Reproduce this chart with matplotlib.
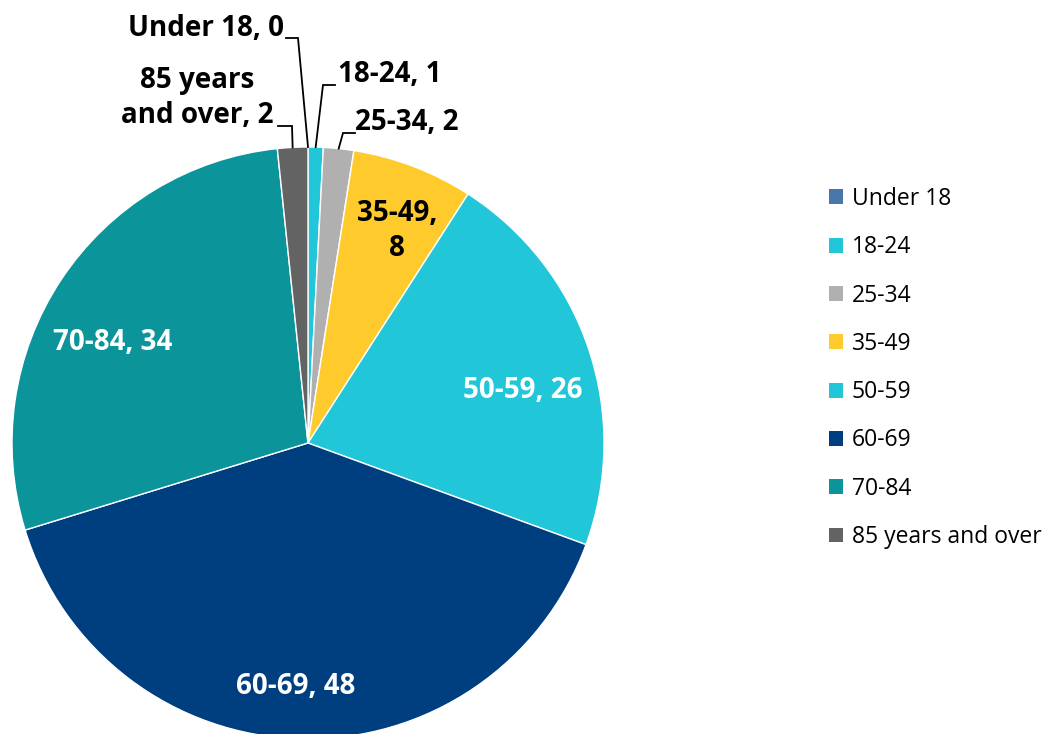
import matplotlib
matplotlib.use("Agg")
import matplotlib.pyplot as plt
import numpy as np

categories = ["Under 18", "18-24", "25-34", "35-49", "50-59", "60-69", "70-84", "85 years and over"]
values = [0, 1, 2, 8, 26, 48, 34, 2]
colors = ["#4A76AC", "#21C6D8", "#B0B0B0", "#FFCA2B", "#21C6D8", "#003F7F", "#0B9499", "#636363"]
label_texts = ["Under 18, 0", "18-24, 1", "25-34, 2", "35-49,\n8", "50-59, 26", "60-69, 48", "70-84, 34", "85 years\nand over, 2"]

W, H = 1045, 734
fig = plt.figure(figsize=(W / 100, H / 100), dpi=100)
ax = fig.add_axes([0, 0, 1, 1])

cx, cy, R = 308, H - 443, 296
wedges, _ = ax.pie(values, colors=colors, startangle=90, counterclock=False,
                   center=(cx, cy), radius=R, frame=True,
                   wedgeprops=dict(edgecolor="white", linewidth=1.0))
ax.set_xlim(0, W)
ax.set_ylim(0, H)
ax.set_aspect("equal")
ax.axis("off")

font = "Open Sans"
fs = 20

# inside labels (text position in pixel coords, color)
inside = {3: ((397, 231), "black"), 4: ((523, 391), "white"),
          5: ((296, 686), "white"), 6: ((113, 343), "white")}
for i, ((tx, ty), col) in inside.items():
    ax.text(tx, H - ty, label_texts[i], ha="center", va="center", color=col,
            fontsize=fs, fontweight="bold", family=font, linespacing=1.27)

# outside labels with leader lines: text center, elbow point
outside = {0: ((206, 29), (286, 38), (298, 38)),
           1: ((390, 74), (335, 85), (323, 85)),
           2: ((407, 122), (355, 133), (343, 133)),
           7: ((197, 98), (278, 126), (292, 126))}
cum = np.cumsum([0] + values)
total = sum(values)
for i, ((tx, ty), (x1, y1), (x2, y2)) in outside.items():
    mid = (cum[i] + cum[i + 1]) / 2 / total
    ang = np.deg2rad(90 - 360 * mid)
    ex, ey = cx + R * np.cos(ang), cy + R * np.sin(ang)
    ax.plot([x1, x2, ex], [H - y1, H - y2, ey], color="black", lw=1.3,
            solid_joinstyle="miter")
    ax.text(tx, H - ty, label_texts[i], ha="center", va="center", color="black",
            fontsize=fs, fontweight="bold", family=font, linespacing=1.27)

leg = ax.legend(wedges, categories, loc="center left", bbox_to_anchor=(829 / W, 1 - 368 / H),
                frameon=False, prop=dict(family="Open Sans", size=16.5),
                handlelength=0.62, handleheight=0.62, handletextpad=0.38,
                labelspacing=1.06, borderaxespad=0, borderpad=0)
for h in leg.legend_handles:
    h.set_edgecolor("none")

fig.savefig("out.png", dpi=100)
